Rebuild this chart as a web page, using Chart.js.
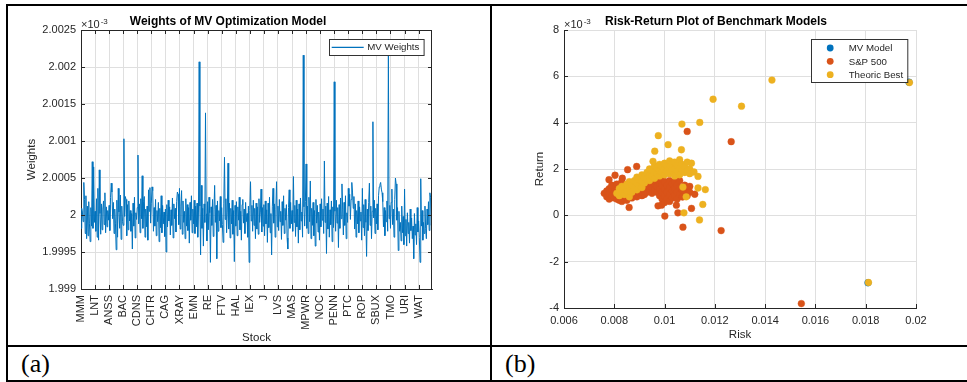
<!DOCTYPE html>
<html>
<head>
<meta charset="utf-8">
<script src="https://cdn.jsdelivr.net/npm/chart.js@4.4.1/dist/chart.umd.min.js"></script>
<style>
  body { margin: 0; background: #fff; width: 967px; height: 382px; overflow: hidden; position: relative; }
  .ln { position: absolute; background: #000; }
  .cv { position: absolute; top: 6px; }
  .lab { position: absolute; top: 351px; font-family: "Liberation Serif", "Times New Roman", serif; font-size: 26px; line-height: 26px; color: #000; }
</style>
</head>
<body>
<div class="ln" style="left:6px;top:4px;width:961px;height:2px"></div>
<div class="ln" style="left:6px;top:4px;width:2px;height:378px"></div>
<div class="ln" style="left:490px;top:4px;width:2px;height:378px"></div>
<div class="ln" style="left:6px;top:345px;width:961px;height:2px"></div>
<div class="ln" style="left:6px;top:380px;width:961px;height:2px"></div>
<div class="cv" style="left:24px"><canvas id="c1" width="465" height="339"></canvas></div>
<div class="cv" style="left:516px"><canvas id="c2" width="448" height="339"></canvas></div>
<div class="lab" style="left:21px">(a)</div>
<div class="lab" style="left:505px">(b)</div>
<script>
// ---- data (weights and returns in units of 1e-3) ----
var stockTicks = ['MMM','LNT','ANSS','BAC','CDNS','CHTR','CAG','XRAY','EMN','RE','FTV','HAL','IEX','J','LVS','MAS','MPWR','NOC','PENN','PTC','ROP','SBUX','TMO','URI','WAT'];
var weightTicks = [1.999, 1.9995, 2, 2.0005, 2.001, 2.0015, 2.002, 2.0025];
var weights = [
  1.99982,2.00009,2.00004,1.99991,2.00044,2.00021,1.99975,2.00026,1.99968,2.00012,1.99972,2.00018,1.99988,1.99964,2.00010,1.99985,2.00072,1.99982,2.00065,1.99990,
  2.00005,1.99978,2.00022,1.99970,2.00036,1.99966,2.00061,2.00002,1.99974,2.00015,1.99980,2.00008,2.00019,1.99987,2.00030,1.99976,2.00011,1.99984,2.00006,1.99993,
  2.00013,1.99979,2.00024,2.00043,2.00031,1.99995,2.00017,1.99975,2.00008,1.99988,1.99953,2.00020,1.99970,2.00036,2.00004,1.99982,2.00027,1.99967,2.00012,1.99991,
  1.99986,2.00103,1.99998,2.00025,2.00021,1.99972,2.00014,1.99980,2.00019,1.99992,2.00006,1.99978,2.00002,1.99954,2.00016,1.99985,2.00024,1.99969,2.00003,1.99994,
  2.00010,2.00081,1.99988,2.00015,1.99976,2.00022,1.99995,2.00053,1.99982,2.00018,2.00025,1.99970,2.00008,1.99984,2.00012,1.99966,2.00034,2.00005,2.00037,1.99989,
  2.00016,2.00038,2.00033,1.99978,2.00010,1.99985,2.00021,1.99972,2.00006,1.99991,2.00017,1.99964,2.00009,1.99983,2.00026,1.99976,2.00013,1.99988,2.00004,1.99971,
  2.00008,1.99950,2.00014,1.99984,2.00020,1.99992,2.00011,1.99973,2.00007,1.99986,2.00023,1.99969,2.00015,1.99995,2.00009,1.99977,2.00018,2.00031,2.00028,1.99987,
  2.00036,1.99981,2.00012,2.00033,1.99974,2.00019,1.99990,2.00005,1.99968,2.00022,1.99985,2.00014,1.99979,2.00010,1.99962,2.00017,1.99993,2.00026,1.99976,2.00008,
  1.99988,2.00020,1.99975,2.00012,1.99984,2.00016,1.99970,2.00004,2.00207,2.00012,1.99946,2.00040,1.99982,2.00009,1.99958,2.00015,1.99990,2.00138,2.00002,1.99965,
  2.00018,1.99980,2.00024,2.00003,1.99936,2.00011,1.99986,2.00021,1.99971,2.00007,2.00040,1.99990,2.00013,1.99941,2.00019,1.99978,2.00006,1.99992,2.00025,1.99983,
  2.00010,1.99987,1.99963,2.00015,2.00078,1.99994,2.00022,1.99976,2.00004,2.00070,1.99981,2.00016,1.99969,2.00009,1.99988,2.00020,1.99974,2.00006,1.99937,2.00013,
  1.99985,2.00018,1.99972,2.00011,1.99993,2.00024,1.99980,2.00005,1.99966,2.00014,2.00021,1.99989,2.00008,1.99975,2.00017,1.99991,2.00002,1.99970,2.00012,1.99936,
  2.00006,2.00045,1.99992,2.00013,1.99978,2.00020,1.99986,2.00009,1.99968,2.00016,1.99981,2.00011,1.99974,2.00022,1.99990,2.00004,2.00035,1.99977,2.00010,1.99985,
  2.00014,1.99972,2.00019,1.99988,2.00007,1.99963,2.00016,1.99983,2.00024,1.99976,2.00002,1.99946,2.00011,2.00036,1.99989,2.00015,1.99970,2.00008,2.00045,1.99984,
  2.00012,1.99979,2.00021,1.99991,2.00005,1.99967,2.00018,1.99986,2.00026,1.99975,2.00009,1.99993,2.00014,1.99969,1.99954,2.00010,2.00034,1.99982,2.00017,1.99988,
  2.00006,1.99978,2.00052,1.99990,2.00013,1.99971,2.00020,1.99984,2.00008,1.99962,2.00015,1.99980,2.00023,1.99992,2.00004,1.99970,2.00216,2.00011,1.99985,2.00018,
  2.00069,1.99982,2.00012,1.99975,2.00024,1.99991,2.00046,1.99968,2.00009,1.99986,2.00017,1.99972,2.00006,1.99958,2.00021,1.99989,2.00013,1.99977,2.00004,1.99966,
  2.00015,1.99984,2.00022,1.99993,2.00008,1.99975,2.00073,1.99990,2.00012,1.99948,2.00016,1.99981,2.00025,1.99970,2.00007,1.99987,2.00019,1.99964,2.00011,1.99983,
  2.00180,2.00005,1.99978,2.00020,1.99989,2.00010,1.99956,2.00014,1.99982,2.00023,1.99995,2.00042,2.00008,1.99973,2.00017,1.99986,2.00026,1.99968,2.00003,1.99990,
  2.00036,2.00012,2.00028,1.99994,2.00021,2.00044,2.00031,2.00009,2.00025,1.99981,2.00015,1.99970,2.00006,1.99988,2.00019,1.99976,2.00011,1.99992,2.00004,1.99966,
  2.00036,1.99983,2.00014,1.99972,2.00021,1.99990,1.99944,2.00008,1.99979,2.00017,2.00043,1.99986,2.00012,1.99968,2.00005,2.00126,1.99996,2.00020,1.99975,2.00009,
  1.99988,2.00015,1.99980,2.00026,2.00038,2.00041,2.00044,2.00035,2.00030,2.00018,1.99984,2.00010,1.99972,2.00006,1.99991,2.00019,1.99978,2.00216,1.99995,2.00013,
  1.99982,2.00017,2.00035,1.99987,2.00008,1.99970,2.00021,2.00050,2.00042,1.99993,2.00010,1.99952,2.00005,1.99978,1.99990,1.99965,2.00012,1.99976,1.99998,1.99960,
  2.00035,1.99972,1.99994,1.99958,2.00003,1.99975,1.99990,1.99962,2.00008,1.99979,1.99996,1.99968,1.99985,1.99941,2.00002,1.99973,1.99988,1.99960,2.00010,1.99977,
  1.99992,1.99970,1.99936,2.00049,1.99985,2.00006,1.99966,1.99990,1.99975,2.00012,1.99982,1.99968,2.00008,1.99987,2.00018,1.99979,2.00030,2.00024,1.99986,2.00003
];

var riskTicks = [0.006, 0.008, 0.01, 0.012, 0.014, 0.016, 0.018, 0.02];
var returnTicks = [-4, -2, 0, 2, 4, 6, 8];
// [risk, return]
var mvPoints = [[0.01972, 5.75], [0.01809, -2.91], [0.0095, 1.95], [0.0102, 2.05]];
var spPoints = [
  [0.0076,0.95],[0.0077,0.80],[0.0077,1.05],[0.0078,0.70],[0.0078,0.95],[0.0078,1.15],[0.0079,0.85],[0.0079,1.10],
  [0.0080,0.75],[0.0080,1.00],[0.0080,1.20],[0.0081,0.70],[0.0081,0.90],[0.0082,0.65],[0.0082,0.80],[0.0083,0.60],
  [0.0083,0.75],[0.0084,0.70],[0.0085,0.65],[0.0079,1.30],[0.0081,1.35],[0.0083,1.45],
  [0.00779,1.54],[0.00803,1.73],[0.00832,1.60],[0.00853,1.97],[0.00889,2.11],[0.00859,0.34],[0.00974,0.41],
  [0.0087,0.75],[0.0088,0.90],[0.0089,0.80],[0.0090,0.95],[0.0090,1.10],[0.0091,0.85],[0.0091,1.00],[0.0092,0.90],
  [0.0092,1.15],[0.0093,1.00],[0.0093,1.30],[0.0094,1.05],[0.0094,1.25],[0.0095,0.95],[0.0095,1.20],[0.0095,1.45],
  [0.0096,1.10],[0.0096,1.35],[0.0097,1.00],[0.0097,1.25],[0.0097,1.55],[0.0098,0.85],[0.0098,1.15],[0.0098,1.40],
  [0.0099,0.70],[0.0099,1.00],[0.0099,1.30],[0.0099,1.60],
  [0.0100,0.55],[0.0100,0.85],[0.0100,1.15],[0.0100,1.45],[0.0101,0.70],[0.0101,1.00],[0.0101,1.30],[0.0102,0.60],
  [0.0102,0.90],[0.0102,1.20],[0.0102,1.50],[0.0103,0.75],[0.0103,1.05],[0.0103,1.35],[0.0104,0.85],[0.0104,1.15],
  [0.0104,1.45],[0.0105,0.70],[0.0105,1.00],[0.0105,1.30],[0.0106,0.90],[0.0106,1.20],[0.0106,1.50],[0.0107,0.80],
  [0.0107,1.10],[0.0108,1.00],[0.0108,1.30],[0.0109,0.85],[0.0109,1.15],[0.0110,1.00],[0.0110,1.25],
  [0.00988,0.44],[0.01001,-0.03],[0.01047,0.44],[0.01053,0.11],[0.01107,0.30],[0.01120,0.91],[0.01073,-0.51],
  [0.01225,-0.66],[0.01090,3.62],[0.01265,3.18],[0.01544,-3.81],[0.01073,0.80]
];
var tbPoints = [
  [0.0081,0.95],[0.0082,0.85],[0.0082,1.15],[0.0083,1.00],[0.0083,1.25],[0.0084,0.90],[0.0084,1.20],[0.0085,1.05],
  [0.0085,1.35],[0.0086,0.80],[0.0086,1.15],[0.0086,1.45],[0.0087,1.00],[0.0087,1.30],[0.0088,1.20],[0.0088,1.50],
  [0.0089,1.10],[0.0089,1.40],[0.0089,1.65],[0.0090,1.30],[0.0090,1.55],[0.0091,1.20],[0.0091,1.45],[0.0091,1.75],
  [0.0092,1.40],[0.0092,1.65],[0.0093,1.55],[0.0093,1.85],[0.0094,1.50],[0.0094,1.75],[0.0094,2.00],[0.0095,1.70],
  [0.0095,1.95],[0.0096,1.60],[0.0096,1.85],[0.0096,2.15],[0.0097,1.80],[0.0097,2.05],[0.0098,1.70],[0.0098,1.95],
  [0.0098,2.20],[0.0099,1.85],[0.0099,2.10],[0.0100,1.75],[0.0100,2.00],[0.0100,2.25],[0.0101,1.90],[0.0101,2.15],
  [0.0102,1.80],[0.0102,2.05],[0.0102,2.35],[0.0103,1.95],[0.0103,2.20],[0.0104,1.70],[0.0104,2.00],[0.0104,2.30],
  [0.0105,1.90],[0.0105,2.15],[0.0106,1.75],[0.0106,2.05],[0.0106,2.40],[0.0107,1.95],[0.0107,2.20],[0.0108,1.85],
  [0.0108,2.10],[0.0109,2.30],[0.0109,1.90],[0.0110,2.00],[0.0110,1.80],
  [0.01193,5.01],[0.01140,4.01],[0.01069,3.94],[0.00975,3.44],[0.01014,3.05],[0.01067,2.83],[0.00961,2.77],
  [0.00954,2.33],[0.01107,2.25],[0.01117,1.87],[0.01133,1.68],[0.01133,1.18],[0.01162,1.11],[0.01152,0.47],
  [0.01139,-0.20],[0.01086,0.80],[0.01077,0.11],[0.01073,1.22],[0.01427,5.84],[0.01306,4.71],
  [0.01974,5.73],[0.01811,-2.90]
];

var font = "'Liberation Sans', Arial, Helvetica, sans-serif";
var axisColor = '#262626';
var gridColor = '#dfdfdf';

// box, inward ticks, x10^-3 label and MATLAB-like legend
function decor(box, legendItems, legendBox) {
  return {
    id: 'decor',
    afterDraw: function(chart) {
      var ctx = chart.ctx, a = chart.chartArea, xs = chart.scales.x, ys = chart.scales.y;
      ctx.save();
      ctx.strokeStyle = axisColor;
      ctx.lineWidth = 1;
      ctx.beginPath();
      if (box) {
        ctx.moveTo(a.left, Math.round(a.top) + 0.5); ctx.lineTo(a.right, Math.round(a.top) + 0.5);
        ctx.moveTo(Math.round(a.right) - 0.5, a.top); ctx.lineTo(Math.round(a.right) - 0.5, a.bottom);
      }
      xs.ticks.forEach(function(t) {
        var px = Math.round(xs.getPixelForValue(t.value)) + 0.5;
        ctx.moveTo(px, a.bottom); ctx.lineTo(px, a.bottom - 4);
        if (box) { ctx.moveTo(px, a.top); ctx.lineTo(px, a.top + 4); }
      });
      ys.ticks.forEach(function(t) {
        var py = Math.round(ys.getPixelForValue(t.value)) + 0.5;
        ctx.moveTo(a.left, py); ctx.lineTo(a.left + 4, py);
        if (box) { ctx.moveTo(a.right, py); ctx.lineTo(a.right - 4, py); }
      });
      ctx.stroke();

      ctx.fillStyle = axisColor;
      ctx.font = '11px ' + font;
      ctx.textBaseline = 'alphabetic';
      ctx.fillText('\u00d710', a.left, a.top - 2);
      var w = ctx.measureText('\u00d710').width;
      ctx.font = '8px ' + font;
      ctx.fillText('-3', a.left + w + 1, a.top - 6);

      // legend
      var bx = a.right - legendBox.right - legendBox.w, by = a.top + legendBox.top;
      ctx.fillStyle = '#fff';
      ctx.fillRect(bx, by, legendBox.w, legendBox.h);
      ctx.strokeStyle = '#333';
      ctx.strokeRect(Math.round(bx) + 0.5, Math.round(by) + 0.5, legendBox.w, legendBox.h);
      ctx.font = '9.7px ' + font;
      ctx.textBaseline = 'middle';
      legendItems.forEach(function(idx, k) {
        var ds = chart.data.datasets[idx];
        var cy = by + legendBox.row0 + k * legendBox.step;
        if (legendBox.line) {
          ctx.strokeStyle = ds.borderColor;
          ctx.lineWidth = 1.2;
          ctx.beginPath(); ctx.moveTo(bx + 3, cy); ctx.lineTo(bx + 35, cy); ctx.stroke();
        } else {
          ctx.fillStyle = ds.pointBackgroundColor;
          ctx.beginPath(); ctx.arc(bx + 19.5, cy, 3.4, 0, Math.PI * 2); ctx.fill();
        }
        ctx.fillStyle = axisColor;
        ctx.fillText(ds.label, bx + legendBox.textX, cy + 0.5);
      });
      ctx.restore();
    }
  };
}

function tickFont() { return { family: font, size: 11 }; }
function titleFont() { return { family: font, size: 11.5 }; }

new Chart(document.getElementById('c1'), {
  type: 'line',
  data: {
    datasets: [{
      label: 'MV Weights',
      data: weights.map(function(w, i) { return { x: i, y: w }; }),
      borderColor: '#0072BD',
      borderWidth: 1,
      pointRadius: 0,
      tension: 0
    }]
  },
  options: {
    responsive: false,
    animation: false,
    events: [],
    layout: { padding: { left: 0, right: 57, top: 0, bottom: 0 } },
    plugins: {
      legend: { display: false },
      tooltip: { enabled: false },
      title: {
        display: true, text: 'Weights of MV Optimization Model', color: '#000',
        font: { family: font, size: 12, weight: 'bold' }, padding: { top: 8, bottom: 1.6 }
      }
    },
    scales: {
      x: {
        type: 'linear', min: 0, max: 499,
        afterBuildTicks: function(s) { s.ticks = stockTicks.map(function(_, i) { return { value: i * 20 }; }); },
        afterFit: function(s) { s.height = 56; },
        ticks: {
          autoSkip: false, minRotation: 90, maxRotation: 90, padding: 6, color: axisColor, font: tickFont(),
          callback: function(v, i) { return stockTicks[i]; }
        },
        grid: { color: gridColor, drawTicks: false },
        border: { color: axisColor },
        title: { display: true, text: 'Stock', color: axisColor, font: titleFont(), padding: { top: 0, bottom: 0 } }
      },
      y: {
        min: 1.999, max: 2.0025,
        afterBuildTicks: function(s) { s.ticks = weightTicks.map(function(v) { return { value: v }; }); },
        afterFit: function(s) { s.width = 57; },
        ticks: { padding: 5, color: axisColor, font: tickFont(), callback: function(v) { return String(v); } },
        grid: { color: gridColor, drawTicks: false },
        border: { color: axisColor },
        title: { display: true, text: 'Weights', color: axisColor, font: titleFont(), padding: { top: 1, bottom: 0 } }
      }
    }
  },
  plugins: [decor(true, [0], { right: 8.7, top: 9.3, w: 94.6, h: 16, row0: 8, step: 0, textX: 38.6, line: true })]
});

function pts(list) { return list.map(function(p) { return { x: p[0], y: p[1] }; }); }
function scatterSet(label, list, color, order) {
  return {
    label: label, data: pts(list), order: order,
    pointBackgroundColor: color, pointBorderColor: color, pointBorderWidth: 0.4,
    pointRadius: 3.4, showLine: false
  };
}

new Chart(document.getElementById('c2'), {
  type: 'scatter',
  data: {
    datasets: [
      scatterSet('MV Model', mvPoints, '#0072BD', 3),
      scatterSet('S&P 500', spPoints, '#D95319', 2),
      scatterSet('Theoric Best', tbPoints, '#EDB120', 1)
    ]
  },
  options: {
    responsive: false,
    animation: false,
    events: [],
    layout: { padding: { left: 0, right: 48, top: 0, bottom: 0 } },
    plugins: {
      legend: { display: false },
      tooltip: { enabled: false },
      title: {
        display: true, text: 'Risk-Return Plot of Benchmark Models', color: '#000',
        font: { family: font, size: 12, weight: 'bold' }, padding: { top: 8, bottom: 1.6 }
      }
    },
    scales: {
      x: {
        type: 'linear', min: 0.006, max: 0.02,
        afterBuildTicks: function(s) { s.ticks = riskTicks.map(function(v) { return { value: v }; }); },
        afterFit: function(s) { s.height = 37; },
        ticks: { padding: 6, maxRotation: 0, color: axisColor, font: tickFont(), callback: function(v) { return String(v); } },
        grid: { color: gridColor, drawTicks: false },
        border: { color: axisColor },
        title: { display: true, text: 'Risk', color: axisColor, font: titleFont(), padding: { top: 0, bottom: 2.8 } }
      },
      y: {
        min: -4, max: 8,
        afterBuildTicks: function(s) { s.ticks = returnTicks.map(function(v) { return { value: v }; }); },
        afterFit: function(s) { s.width = 48; },
        ticks: { padding: 5, color: axisColor, font: tickFont(), callback: function(v) { return String(v); } },
        grid: { color: gridColor, drawTicks: false },
        border: { color: axisColor },
        title: { display: true, text: 'Return', color: axisColor, font: titleFont(), padding: { top: 17, bottom: 0 } }
      }
    }
  },
  plugins: [decor(false, [0, 1, 2], { right: 9, top: 9.3, w: 96.3, h: 43, row0: 8.7, step: 13.35, textX: 38, line: false })]
});
</script>
</body>
</html>
